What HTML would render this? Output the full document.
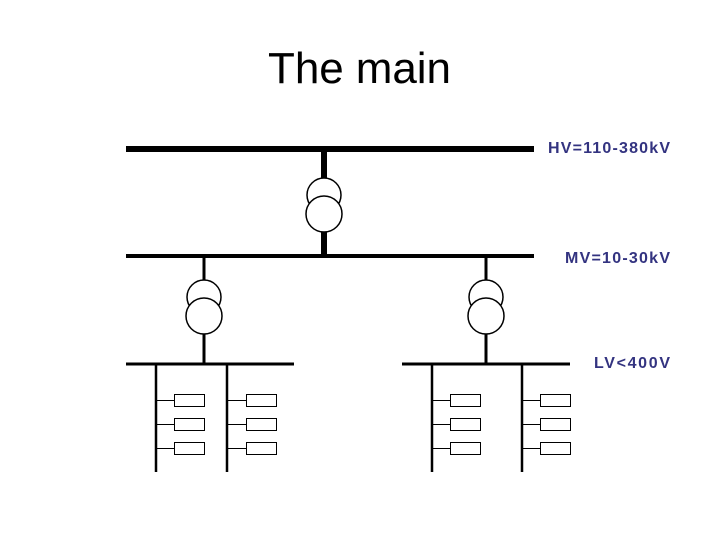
<!DOCTYPE html>
<html><head><style>html,body{margin:0;padding:0;background:#fff}</style></head>
<body>
<svg width="720" height="540" xmlns="http://www.w3.org/2000/svg" style="display:block">
<rect width="720" height="540" fill="#fff"/>
<text x="268" y="83" font-family="Liberation Sans, sans-serif" font-size="44" fill="#000" textLength="183">The main</text>
<g font-family="Liberation Sans, sans-serif" font-weight="bold" font-size="16" fill="#333380">
<text x="548" y="153" textLength="122">HV=110-380kV</text>
<text x="565" y="263" textLength="105">MV=10-30kV</text>
<text x="594" y="368" textLength="76">LV&lt;400V</text>
</g>
<g stroke="#000" fill="none">
<line x1="126" y1="149" x2="534" y2="149" stroke-width="6"/>
<line x1="324" y1="149" x2="324" y2="180" stroke-width="6"/>
<line x1="324" y1="230" x2="324" y2="256" stroke-width="6"/>
<line x1="126" y1="256" x2="534" y2="256" stroke-width="4"/>
<circle cx="324" cy="195" r="17" stroke-width="1.5" fill="#fff"/>
<circle cx="324" cy="214" r="18" stroke-width="1.5" fill="#fff"/>

<line x1="204" y1="256" x2="204" y2="282" stroke-width="3"/>
<line x1="204" y1="333" x2="204" y2="364" stroke-width="3"/>
<circle cx="204" cy="297" r="17" stroke-width="1.5" fill="#fff"/>
<circle cx="204" cy="316" r="18" stroke-width="1.5" fill="#fff"/>
<line x1="486" y1="256" x2="486" y2="282" stroke-width="3"/>
<line x1="486" y1="333" x2="486" y2="364" stroke-width="3"/>
<circle cx="486" cy="297" r="17" stroke-width="1.5" fill="#fff"/>
<circle cx="486" cy="316" r="18" stroke-width="1.5" fill="#fff"/>

<line x1="126" y1="364" x2="294" y2="364" stroke-width="3"/>
<line x1="402" y1="364" x2="570" y2="364" stroke-width="3"/>
<g stroke-width="2.5">
<line x1="156" y1="364" x2="156" y2="472"/>
<line x1="227" y1="364" x2="227" y2="472"/>
<line x1="432" y1="364" x2="432" y2="472"/>
<line x1="522" y1="364" x2="522" y2="472"/>
</g>
<g stroke-width="1">
<path d="M156 400.5H174M227 400.5H246M432 400.5H450M522 400.5H540M156 424.5H174M227 424.5H246M432 424.5H450M522 424.5H540M156 448.5H174M227 448.5H246M432 448.5H450M522 448.5H540"/>
<rect x="174.5" y="394.5" width="30" height="12"/><rect x="246.5" y="394.5" width="30" height="12"/>
<rect x="450.5" y="394.5" width="30" height="12"/><rect x="540.5" y="394.5" width="30" height="12"/>
<rect x="174.5" y="418.5" width="30" height="12"/><rect x="246.5" y="418.5" width="30" height="12"/>
<rect x="450.5" y="418.5" width="30" height="12"/><rect x="540.5" y="418.5" width="30" height="12"/>
<rect x="174.5" y="442.5" width="30" height="12"/><rect x="246.5" y="442.5" width="30" height="12"/>
<rect x="450.5" y="442.5" width="30" height="12"/><rect x="540.5" y="442.5" width="30" height="12"/>
</g>
</g>
</svg>
</body></html>
